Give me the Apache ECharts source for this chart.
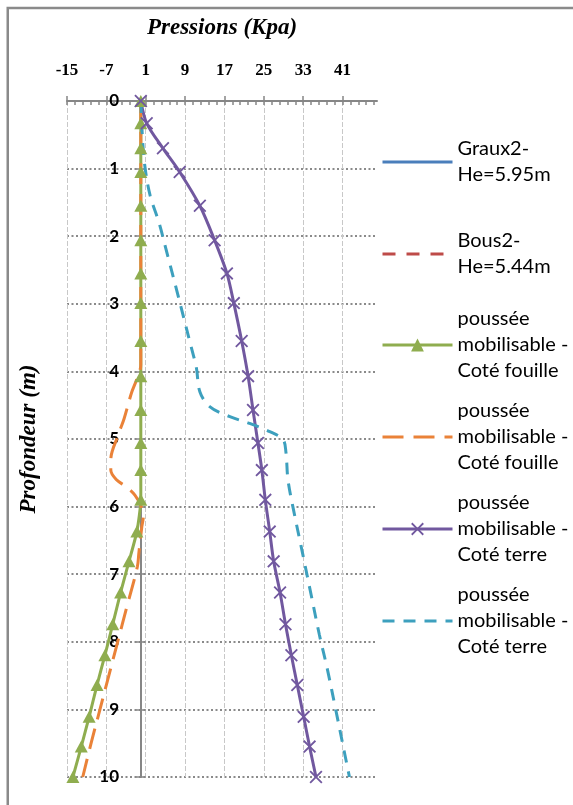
<!DOCTYPE html>
<html><head><meta charset="utf-8">
<script src="https://cdn.jsdelivr.net/npm/echarts@6/dist/echarts.min.js"></script>
<style>html,body{margin:0;padding:0;background:#fff}#c{width:573px;height:805px}</style>
</head><body><div id="c"></div>
<script>
// ---------- data ----------
const xTickLabels = [-15, -7, 1, 9, 17, 25, 33, 41];
const yTickLabels = [0, 1, 2, 3, 4, 5, 6, 7, 8, 9, 10];

const legendLabels = [
  'Graux2-\nHe=5.95m',
  'Bous2-\nHe=5.44m',
  'poussée\nmobilisable -\nCoté fouille',
  'poussée\nmobilisable -\nCoté fouille',
  'poussée\nmobilisable -\nCoté terre',
  'poussée\nmobilisable -\nCoté terre'
];
const seriesIds = ['graux2', 'bous2', 'fouille1', 'fouille2', 'terre1', 'terre2'];

// Graux2 / Bous2 : no visible marks in the reference
const graux2Depth = [];
const graux2X = [];
const bous2Depth = [];
const bous2X = [];

// poussée mobilisable - Coté fouille (triangles)
const fouilleDepth = [0, 0.33, 0.7, 1.05, 1.55, 2.06, 2.55, 2.99, 3.55, 4.07, 4.57, 5.06, 5.46, 5.90, 6.37, 6.81, 7.27, 7.74, 8.20, 8.64, 9.11, 9.55, 10.0];
const fouilleX     = [0, 0, 0, 0, 0, 0, 0, 0, 0, 0, 0, 0, 0, 0, -0.8, -2.4, -4.1, -5.7, -7.3, -8.9, -10.5, -12.1, -13.8];

// poussée mobilisable - Coté fouille (dashed orange)
const fouille2Depth = [0, 1, 2, 3, 3.9, 4.13, 4.32, 4.7, 4.94, 5.31, 5.46, 5.6, 5.71, 5.83, 6.0, 6.15, 6.3, 6.69, 6.89, 7.5, 8.0, 8.5, 9.0, 9.5, 10];
const fouille2X     = [0, 0, 0, 0, 0, -0.9, -1.9, -3.4, -4.6, -6.1, -6.1, -5.0, -2.9, -1.2, 0.1, 0.5, 0.2, -0.4, -0.7, -2.9, -4.7, -6.5, -8.3, -10.1, -11.8];

// poussée mobilisable - Coté terre (crosses)
const terreDepth = [0, 0.33, 0.7, 1.05, 1.55, 2.06, 2.55, 2.99, 3.55, 4.07, 4.57, 5.06, 5.46, 5.90, 6.37, 6.81, 7.27, 7.74, 8.20, 8.64, 9.11, 9.55, 10.0];
const terreX     = [0, 1.2, 4.5, 7.9, 12.0, 15.0, 17.5, 18.9, 20.5, 21.8, 22.8, 23.8, 24.6, 25.3, 26.2, 27.0, 28.3, 29.4, 30.6, 31.8, 33.1, 34.3, 35.6];

// poussée mobilisable - Coté terre (dashed teal)
const terre2Depth = [0, 0.5, 0.95, 1.4, 1.8, 2.3, 2.8, 3.2, 3.6, 3.95, 4.3, 4.52, 4.67, 4.77, 4.89, 5.01, 5.2, 5.6, 6.0, 6.7, 7.3, 7.9, 8.4, 9.0, 9.5, 10];
const terre2X     = [0, 0.3, 0.8, 1.9, 3.7, 5.5, 7.3, 8.7, 10.1, 11.3, 12.0, 14.0, 18.1, 22.1, 26.2, 28.9, 29.5, 29.9, 30.9, 32.9, 34.6, 36.3, 37.9, 39.6, 41.0, 42.4];

// ---------- build ----------
function pairs(xs, ds) { return xs.map((x, i) => [x, ds[i]]); }

const X_MIN = -15, X_MAX = 48;
const minorTicks = [];
for (let k = 0; X_MIN + 1.6 * k <= X_MAX + 1e-9; k++) minorTicks.push(+(X_MIN + 1.6 * k).toFixed(4));

const AX = '#868686';
const serifBold = {fontFamily: 'Liberation Serif', fontWeight: 'bold', color: '#000'};
const titleFont = {fontFamily: 'Liberation Serif', fontWeight: 'bold', fontStyle: 'italic', fontSize: 23, color: '#000'};

const colors = {
  graux2: '#4A7EBB', bous2: '#BE4B48', fouille1: '#8FAD4F',
  fouille2: '#EA8238', terre1: '#71589F', terre2: '#3DA0BE'
};
const crossPath = 'path://M1,0 L5,4 L9,0 L10,1 L6,5 L10,9 L9,10 L5,6 L1,10 L0,9 L4,5 L0,1 Z';
const noMarkerIds = {graux2: 1, bous2: 1, fouille2: 1, terre2: 1};

const series = [
  {id: 'graux2', name: 'graux2', type: 'line', data: pairs(graux2X, graux2Depth), symbol: 'none',
   lineStyle: {color: colors.graux2, width: 3}, itemStyle: {color: colors.graux2}},
  {id: 'bous2', name: 'bous2', type: 'line', data: pairs(bous2X, bous2Depth), symbol: 'none',
   lineStyle: {color: colors.bous2, width: 3, type: [13, 11]}, itemStyle: {color: colors.bous2}},
  {id: 'fouille1', name: 'fouille1', type: 'line', data: pairs(fouilleX, fouilleDepth),
   symbol: 'triangle', symbolSize: [13, 12], smooth: 0.2,
   lineStyle: {color: colors.fouille1, width: 3}, itemStyle: {color: colors.fouille1}},
  {id: 'fouille2', name: 'fouille2', type: 'line', data: pairs(fouille2X, fouille2Depth), symbol: 'none',
   smooth: 0.35, lineStyle: {color: colors.fouille2, width: 3, type: [21, 10]}, itemStyle: {color: colors.fouille2}},
  {id: 'terre1', name: 'terre1', type: 'line', data: pairs(terreX, terreDepth),
   symbol: crossPath, symbolSize: 13, smooth: 0.3,
   lineStyle: {color: colors.terre1, width: 3}, itemStyle: {color: colors.terre1}},
  {id: 'terre2', name: 'terre2', type: 'line', data: pairs(terre2X, terre2Depth), symbol: 'none',
   smooth: 0.35, lineStyle: {color: colors.terre2, width: 3, type: [12, 9]}, itemStyle: {color: colors.terre2}}
];
series.forEach(s => { s.animation = false; s.xAxisIndex = 0; s.yAxisIndex = 0; s.clip = false; });

// legends: one per entry, icon aligned with first text line
const legendLineY = [162, 254, 345, 437, 529, 621];
const LH = 26;
const legends = seriesIds.map((id, i) => {
  const n = legendLabels[i].split('\n').length;
  const P = (n - 1) * LH;
  const H = P + n * LH;
  const lg = {
    show: true, selectedMode: false, orient: 'vertical',
    left: 381, top: legendLineY[i] - H / 2, padding: 0,
    itemWidth: 70, itemHeight: 16,
    data: [id],
    formatter: () => legendLabels[i],
    lineStyle: {width: 3},
    textStyle: {fontFamily: 'Lato', fontSize: 20, lineHeight: LH, color: '#000', padding: [P, 0, 0, 0]}
  };
  if (noMarkerIds[id]) lg.itemStyle = {opacity: 0};
  return lg;
});

const option = {
  animation: false,
  backgroundColor: '#fff',
  graphic: [{type: 'rect', x: 0, y: 0, silent: true,
    shape: {x: 7.75, y: 8, width: 800, height: 900},
    style: {fill: 'none', stroke: '#8a8a8a', lineWidth: 2.5}}],
  grid: {left: 67, right: 196, top: 101, bottom: 28, containLabel: false, outerBoundsMode: 'none'},
  legend: legends,
  xAxis: [
    {type: 'value', position: 'top', min: X_MIN, max: X_MAX,
     name: 'Pressions (Kpa)', nameLocation: 'middle', nameGap: 61, nameTextStyle: titleFont,
     axisLine: {show: true, onZero: true, lineStyle: {color: AX, width: 2}},
     axisTick: {show: true, inside: false, length: 5, customValues: xTickLabels, lineStyle: {color: AX, width: 1.5}},
     axisLabel: {show: true, customValues: xTickLabels, margin: 22, fontSize: 17, ...serifBold},
     splitLine: {show: true, lineStyle: {color: '#c8c8c8', width: 1, type: [5, 2]}}},
    {type: 'value', position: 'bottom', min: X_MIN, max: X_MAX,
     axisLine: {show: false, onZero: true},
     axisTick: {show: true, inside: false, length: 4, customValues: minorTicks, lineStyle: {color: AX, width: 1.5}},
     axisLabel: {show: false},
     splitLine: {show: false}}
  ],
  yAxis: [
    {type: 'value', position: 'left', min: 0, max: 10, interval: 1, inverse: true,
     name: 'Profondeur (m)', nameLocation: 'middle', nameGap: 26, nameRotate: 90, nameTextStyle: titleFont,
     axisLine: {show: true, onZero: true, lineStyle: {color: AX, width: 2}},
     axisTick: {show: true, inside: false, length: 5, lineStyle: {color: AX, width: 1.5}},
     axisLabel: {show: true, margin: -52, fontFamily: 'Lato', fontWeight: 'bold', fontSize: 17, color: '#000',
       customValues: yTickLabels},
     splitLine: {show: true, lineStyle: {color: '#8a8a8a', width: 2, type: [2, 2.5]}}},
    {type: 'value', position: 'right', min: 0, max: 10, interval: 1, inverse: true,
     axisLine: {show: false, onZero: true},
     axisTick: {show: true, inside: false, length: 5, lineStyle: {color: AX, width: 1.5}},
     axisLabel: {show: false},
     splitLine: {show: false}}
  ],
  series: series
};

const chart = echarts.init(document.getElementById('c'), null, {renderer: 'canvas', width: 573, height: 805});
chart.setOption(option);
</script>
</body></html>
